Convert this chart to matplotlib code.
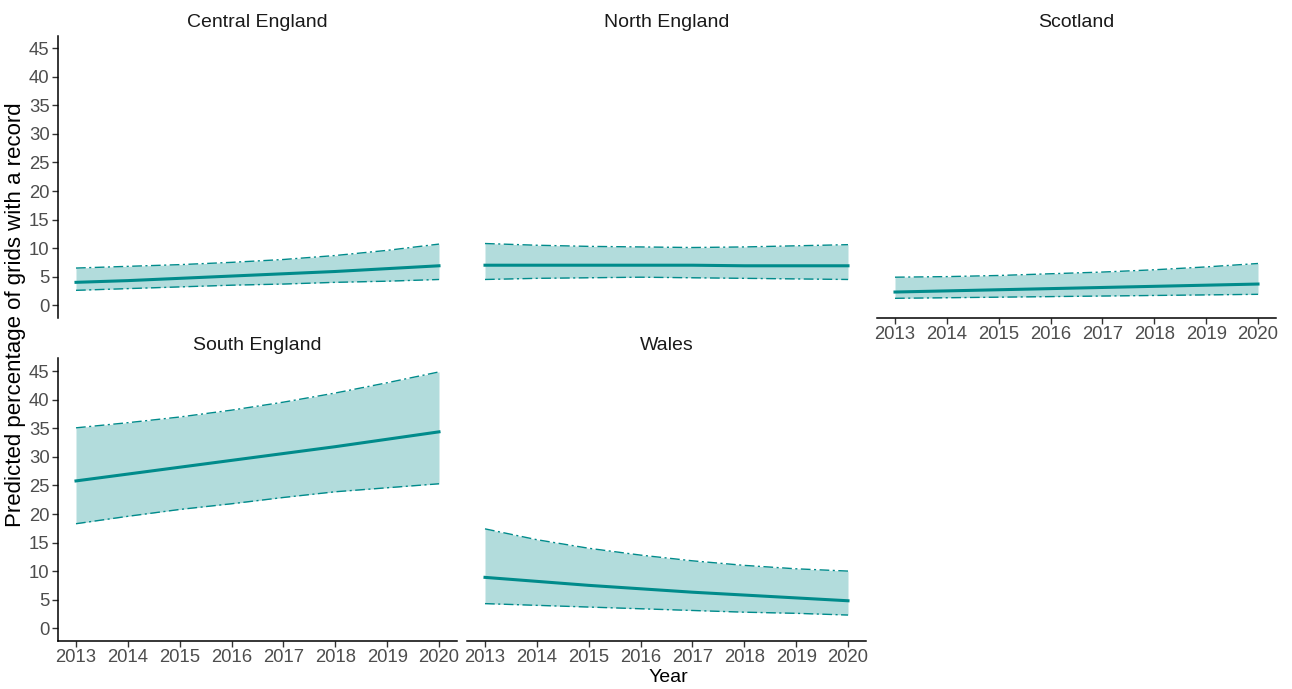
import numpy as np
import matplotlib
matplotlib.use("Agg")
import matplotlib.pyplot as plt

plt.rcParams['font.family'] = ['Liberation Sans', 'DejaVu Sans']

years = [2013, 2014, 2015, 2016, 2017, 2018, 2019, 2020]
regions = ["Central England", "North England", "Scotland", "South England", "Wales"]

# predicted percentage (mean, upper CI, lower CI) per region
central_mean = [4.0, 4.3, 4.7, 5.1, 5.5, 5.9, 6.4, 6.9]
central_upper = [6.5, 6.8, 7.1, 7.5, 8.0, 8.7, 9.6, 10.7]
central_lower = [2.6, 2.9, 3.2, 3.5, 3.7, 4.0, 4.2, 4.5]

north_mean = [7.0, 7.0, 7.0, 7.0, 7.0, 6.9, 6.9, 6.9]
north_upper = [10.8, 10.5, 10.3, 10.2, 10.1, 10.2, 10.4, 10.6]
north_lower = [4.5, 4.7, 4.8, 4.9, 4.8, 4.7, 4.6, 4.5]

scotland_mean = [2.3, 2.5, 2.7, 2.9, 3.1, 3.3, 3.5, 3.7]
scotland_upper = [4.9, 5.0, 5.2, 5.5, 5.8, 6.2, 6.7, 7.3]
scotland_lower = [1.2, 1.3, 1.4, 1.5, 1.6, 1.7, 1.8, 1.9]

south_mean = [25.8, 27.0, 28.2, 29.4, 30.6, 31.8, 33.1, 34.4]
south_upper = [35.1, 36.0, 37.0, 38.2, 39.6, 41.2, 43.0, 44.9]
south_lower = [18.3, 19.6, 20.8, 21.8, 22.9, 23.9, 24.6, 25.3]

wales_mean = [8.9, 8.2, 7.5, 6.9, 6.3, 5.8, 5.3, 4.8]
wales_upper = [17.4, 15.5, 14.0, 12.8, 11.8, 11.0, 10.4, 10.0]
wales_lower = [4.3, 4.0, 3.7, 3.4, 3.1, 2.8, 2.6, 2.3]

series = {
    "Central England": (central_mean, central_upper, central_lower),
    "North England": (north_mean, north_upper, north_lower),
    "Scotland": (scotland_mean, scotland_upper, scotland_lower),
    "South England": (south_mean, south_upper, south_lower),
    "Wales": (wales_mean, wales_upper, wales_lower),
}

teal = "#008b8b"
W, H = 1292, 689
fig = plt.figure(figsize=(W / 100, H / 100), dpi=100)

col_x = [57.85, 466.85, 876.85]
panel_w = 399.3
row_bottom = [318, 641]
panel_h = 282.5

# (row, col, show x axis, show y axis)
layout = {
    "Central England": (0, 0, False, True),
    "North England": (0, 1, False, False),
    "Scotland": (0, 2, True, False),
    "South England": (1, 0, True, True),
    "Wales": (1, 1, True, False),
}

for name in regions:
    r, c, showx, showy = layout[name]
    ax = fig.add_axes([col_x[c] / W, 1 - row_bottom[r] / H, panel_w / W, panel_h / H])
    mean, upper, lower = series[name]
    ax.fill_between(years, lower, upper, color=teal, alpha=0.3, lw=0)
    ax.plot(years, upper, color=teal, lw=1.0, dashes=(7, 2.5, 1.5, 2.5))
    ax.plot(years, lower, color=teal, lw=1.0, dashes=(7, 2.5, 1.5, 2.5))
    ax.plot(years, mean, color=teal, lw=2.2)
    ax.set_xlim(2012.65, 2020.35)
    ax.set_ylim(-2.25, 47.25)
    ax.set_xticks(years)
    ax.set_yticks(range(0, 50, 5))
    for s in ["top", "right"]:
        ax.spines[s].set_visible(False)
    for s in ["left", "bottom"]:
        ax.spines[s].set_linewidth(1.1)
        ax.spines[s].set_color("black")
    ax.tick_params(direction="out", length=4, width=1, colors="#333333",
                   labelsize=13.3, labelcolor="#4d4d4d", pad=2)
    if not showx:
        ax.spines["bottom"].set_visible(False)
        ax.tick_params(axis="x", bottom=False, labelbottom=False)
    if not showy:
        ax.spines["left"].set_visible(False)
        ax.tick_params(axis="y", left=False, labelleft=False)
    ax.set_title(name, fontsize=14, color="#1a1a1a", pad=6)

fig.text(16 / W, 1 - 315 / H, "Predicted percentage of grids with a record",
         rotation=90, ha="center", va="center", fontsize=16, color="black")
fig.text(668 / W, 1 - 678 / H, "Year", ha="center", va="center", fontsize=14, color="black")

fig.savefig("out.png", dpi=100)
